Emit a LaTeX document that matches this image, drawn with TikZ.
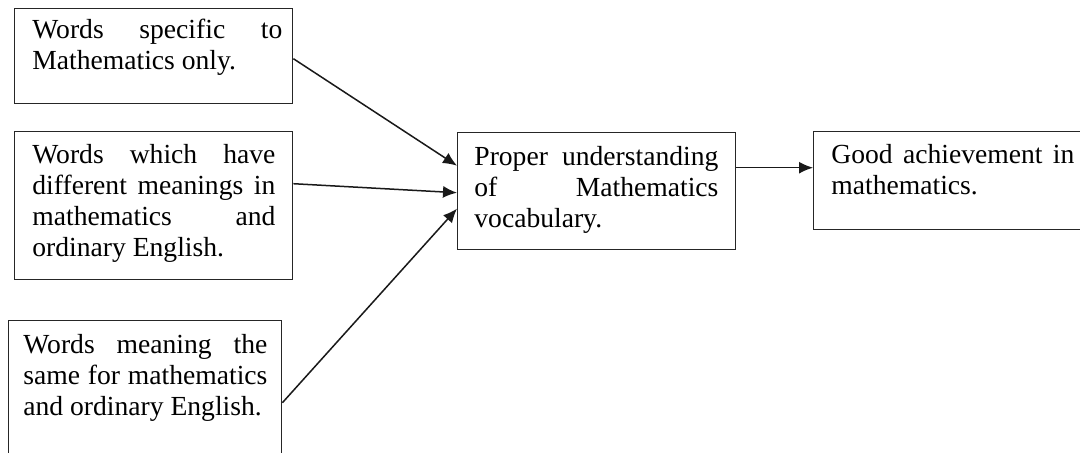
\documentclass[tikz,border=0pt]{standalone}
\usepackage{fontspec}
\setmainfont{Liberation Serif}
\usetikzlibrary{arrows.meta}
\newcommand{\jline}[2]{\makebox[#1][s]{\strut #2}}
\newcommand{\lline}[1]{\strut #1}
\begin{document}
\begin{tikzpicture}[x=0.5pt,y=-0.5pt,
  box/.style={draw=black!85,line width=0.7pt,anchor=north west,inner sep=0pt},
  txt/.style={anchor=north west,inner sep=0pt,align=left,font=\fontsize{13.8}{15.5}\selectfont},
  arr/.style={draw=black!90,line width=0.75pt,-{Latex[length=7pt,width=6pt]}}]
\clip (0,0) rectangle (1080,452);
\fill[white] (0,0) rectangle (1080,452);
% boxes
\node[box,minimum width=139pt,minimum height=47.5pt] (b1) at (14,8) {};
\node[box,minimum width=139pt,minimum height=74pt] (b2) at (14,131) {};
\node[box,minimum width=136.5pt,minimum height=80pt] (b3) at (8,320) {};
\node[box,minimum width=139pt,minimum height=58.5pt] (b4) at (457,132) {};
\node[box,minimum width=141pt,minimum height=49pt] (b5) at (813,131) {};
% texts
\node[txt] (t1) at (32,16.3) {\jline{125pt}{Words specific to}\\\lline{Mathematics only.}};
\node[txt] (t2) at (32,141.3) {\jline{121.5pt}{Words which have}\\\jline{121.5pt}{different meanings in}\\\jline{121.5pt}{mathematics and}\\\lline{ordinary English.}};
\node[txt] (t3) at (23,331.3) {\jline{122pt}{Words meaning the}\\\jline{122pt}{same for mathematics}\\\lline{and ordinary English.}};
\node[txt] (t4) at (474,143.3) {\jline{122pt}{Proper understanding}\\\jline{122pt}{of Mathematics}\\\lline{vocabulary.}};
\node[txt] (t5) at (831,141.3) {\jline{121.5pt}{Good achievement in}\\\lline{mathematics.}};
% connectors
\draw[arr] ([yshift=-1.25pt]b1.east) -- ([yshift=12.75pt]b4.west);
\draw[arr] ([yshift=11pt]b2.east) -- ([yshift=-0.75pt]b4.west);
\draw[arr] ([yshift=-1pt]b3.east) -- ([yshift=-8.75pt]b4.west);
\draw[arr] ([yshift=11.75pt]b4.east) -- ([yshift=6.5pt]b5.west);
\end{tikzpicture}
\end{document}
